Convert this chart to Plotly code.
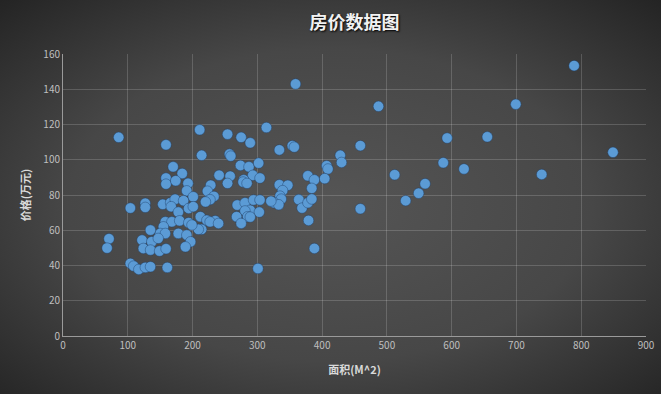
import base64
import plotly.graph_objects as go

# ---- data ----
area = [789, 699, 655, 849, 739, 487, 459, 593, 587, 619, 512, 559, 549, 529, 459,
        428, 430, 359, 314, 254, 275, 289, 334, 354, 357, 211, 214, 86, 159, 257,
        259, 274, 287, 302, 170, 184, 241, 258, 293, 304, 407, 409, 378, 388, 404,
        279, 159, 159, 174, 254, 278, 284, 228, 223, 233, 227, 220, 334, 347, 339,
        335, 337, 326, 333, 321, 384, 364, 369, 378, 384, 379, 388, 301, 269, 281,
        289, 281, 285, 268, 275, 303, 294, 304, 212, 222, 235, 214, 289, 193, 191,
        201, 104, 127, 127, 154, 166, 173, 186, 167, 178, 194, 201, 158, 168, 180,
        194, 209, 155, 150, 158, 135, 178, 191, 197, 189, 71, 68, 122, 124, 137,
        147, 135, 149, 159, 104, 109, 117, 127, 135, 161, 199, 227, 240]
price = [153.4, 131.5, 113.0, 104.2, 91.7, 130.3, 108.0, 112.3, 98.3, 94.8, 91.5, 86.4, 81.0, 76.8, 72.2,
         102.5, 98.5, 143.0, 118.3, 114.5, 112.7, 109.6, 105.6, 108.0, 107.2, 117.0, 102.5, 112.7, 108.5, 103.2,
         102.1, 96.8, 96.0, 98.1, 96.0, 92.2, 91.2, 90.7, 91.2, 89.6, 96.6, 94.8, 90.9, 88.6, 89.3,
         88.6, 89.6, 86.2, 88.1, 86.6, 87.4, 86.6, 85.6, 82.2, 79.2, 77.4, 76.1, 85.8, 85.5, 82.5,
         79.4, 77.7, 75.6, 74.5, 76.5, 83.8, 77.4, 72.6, 75.6, 77.7, 65.6, 49.7, 38.3, 74.3, 75.6,
         71.4, 71.0, 67.7, 67.7, 63.9, 70.3, 77.2, 77.2, 67.7, 65.7, 65.4, 60.5, 67.5, 86.6, 82.4,
         79.0, 72.6, 75.3, 73.0, 74.7, 75.6, 77.6, 76.8, 73.4, 70.3, 72.4, 73.4, 64.8, 64.8, 65.4,
         64.3, 60.5, 62.0, 58.2, 58.2, 60.1, 58.2, 57.3, 53.5, 50.6, 55.2, 49.9, 54.4, 49.7, 53.5,
         55.4, 48.8, 48.2, 49.5, 41.2, 39.7, 37.8, 38.9, 39.3, 38.9, 63.0, 64.8, 63.9]

x_ticks = [0, 100, 200, 300, 400, 500, 600, 700, 800, 900]
y_ticks = [0, 20, 40, 60, 80, 100, 120, 140, 160]

title_text = "房价数据图"
x_title = "面积(M^2)"
y_title = "价格(万元)"

W, H = 661, 394
ML, MR, MT, MB = 63, 15, 54, 58

# radial-gradient background as an inline SVG image
svg = (
    f'<svg xmlns="http://www.w3.org/2000/svg" width="{W}" height="{H}">'
    '<defs><radialGradient id="g" cx="50%" cy="52%" r="72%">'
    '<stop offset="0%" stop-color="#555555"/>'
    '<stop offset="55%" stop-color="#474747"/>'
    '<stop offset="100%" stop-color="#242424"/>'
    '</radialGradient></defs>'
    f'<rect width="{W}" height="{H}" fill="url(#g)"/></svg>'
)
src = "data:image/svg+xml;base64," + base64.b64encode(svg.encode()).decode()

pw = W - ML - MR
ph = H - MT - MB

fig = go.Figure()
fig.add_trace(go.Scatter(
    x=area, y=price, mode="markers",
    marker=dict(size=10.5, color="#5B9BD5",
                line=dict(width=0.6, color="rgba(30,60,100,0.7)")),
    hoverinfo="x+y", showlegend=False,
))

font_family = "Noto Sans CJK SC, Noto Sans, sans-serif"
fig.update_layout(
    width=W, height=H,
    margin=dict(l=ML, r=MR, t=MT, b=MB, pad=0, autoexpand=False),
    paper_bgcolor="#3a3a3a",
    plot_bgcolor="rgba(0,0,0,0)",
    images=[dict(source=src, xref="paper", yref="paper",
                 x=-ML / pw, y=1 + MT / ph, sizex=W / pw, sizey=H / ph,
                 xanchor="left", yanchor="top", sizing="stretch", layer="below")],
    title=dict(text=title_text, x=0.5, xref="paper", xanchor="center",
               y=1 - 23 / H, yref="container", yanchor="middle",
               font=dict(family=font_family, size=18, color="#f2f2f2", weight="bold",
                         shadow="1px 1px 2px #000000")),
    font=dict(family=font_family, color="#bfbfbf"),
    xaxis=dict(range=[0, 900], tickvals=x_ticks, ticktext=[str(v) for v in x_ticks],
               automargin=False,
               showgrid=True, gridcolor="rgba(255,255,255,0.17)", gridwidth=1,
               zeroline=False, showline=True, linecolor="#9a9a9a", linewidth=1,
               ticks="", tickfont=dict(size=10, color="#bfbfbf"),
               title=dict(text=x_title, standoff=15,
                          font=dict(size=11, color="#d9d9d9", family=font_family,
                                    weight="bold"))),
    yaxis=dict(range=[0, 160], tickvals=y_ticks, ticktext=[str(v) for v in y_ticks],
               automargin=False,
               showgrid=True, gridcolor="rgba(255,255,255,0.17)", gridwidth=1,
               zeroline=False, showline=True, linecolor="#9a9a9a", linewidth=1,
               ticks="", tickfont=dict(size=10, color="#bfbfbf"),
               title=dict(text=y_title, standoff=10,
                          font=dict(size=11, color="#d9d9d9", family=font_family,
                                    weight="bold"))),
)

fig.write_html("out.html",
               config={"displayModeBar": False},
               post_script="document.body.style.margin='0';document.body.style.overflow='hidden';")
